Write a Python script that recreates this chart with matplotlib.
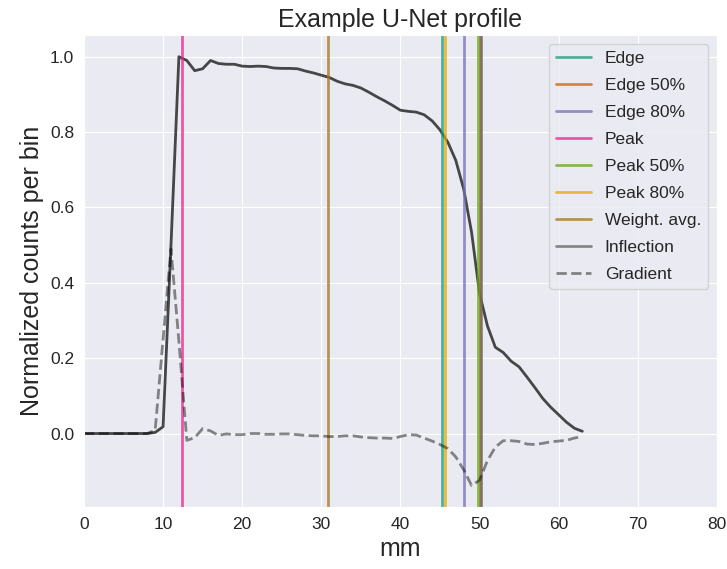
import matplotlib
matplotlib.use("Agg")
from matplotlib import pyplot as plt
import seaborn as sns

# profile sampled every 1 mm
x_mm = list(range(64))
profile = [0.0, 0.0, 0.0, 0.0, 0.0, 0.0, 0.0, 0.0, 0.0, 0.003,
           0.018, 0.50, 1.0, 0.99, 0.963, 0.968, 0.99, 0.982, 0.98, 0.98,
           0.975, 0.974, 0.975, 0.974, 0.97, 0.969, 0.969, 0.968, 0.962, 0.957,
           0.951, 0.945, 0.935, 0.928, 0.924, 0.917, 0.906, 0.894, 0.883, 0.871,
           0.858, 0.855, 0.853, 0.846, 0.83, 0.806, 0.773, 0.725, 0.649, 0.534,
           0.372, 0.286, 0.229, 0.215, 0.192, 0.177, 0.15, 0.122, 0.093, 0.07,
           0.05, 0.03, 0.014, 0.006]
gradient = [0.0, 0.0, 0.0, 0.0, 0.0, 0.0, 0.0, 0.0, 0.0, 0.009,
            0.25, 0.49, 0.245, -0.018, -0.011, 0.013, 0.007, -0.005, -0.001, -0.003,
            -0.003, 0.0, 0.0, -0.002, -0.002, -0.001, -0.001, -0.003, -0.005, -0.006,
            -0.006, -0.008, -0.008, -0.006, -0.006, -0.009, -0.011, -0.012, -0.012, -0.013,
            -0.008, -0.003, -0.004, -0.012, -0.02, -0.029, -0.04, -0.062, -0.096, -0.138,
            -0.124, -0.072, -0.036, -0.019, -0.019, -0.021, -0.028, -0.029, -0.026, -0.022,
            -0.02, -0.018, -0.012, -0.008]

marker_names = ["Edge", "Edge 50%", "Edge 80%", "Peak", "Peak 50%",
                "Peak 80%", "Weight. avg.", "Inflection"]
marker_pos = [45.3, 50.1, 48.0, 12.4, 49.8, 45.6, 30.8, 50.15]

sns.set_style("darkgrid")
plt.rcParams["font.family"] = ["Liberation Sans", "DejaVu Sans"]

colors = sns.color_palette("Dark2", len(marker_names))

fig = plt.figure(figsize=(7.27, 5.69), dpi=100)
ax = fig.add_axes([0.1155, 0.109, 0.8705, 0.829])

ax.plot(x_mm, profile, "k", alpha=0.7, linewidth=2)
for name, pos, c in zip(marker_names, marker_pos, colors):
    ax.axvline(pos, color=c, alpha=0.75, linewidth=2, label=name)
ax.plot(x_mm, gradient, "k--", alpha=0.45, linewidth=2, label="Gradient")

ax.set_xlim(0, 80)
ax.set_title("Example U-Net profile", fontsize=18)
ax.set_xlabel("mm", fontsize=18)
ax.set_ylabel("Normalized counts per bin", fontsize=18)
ax.tick_params(labelsize=12.5)
ax.legend(loc="upper right", fontsize=12.5, labelspacing=0.68)

fig.savefig("out.png", dpi=100)
